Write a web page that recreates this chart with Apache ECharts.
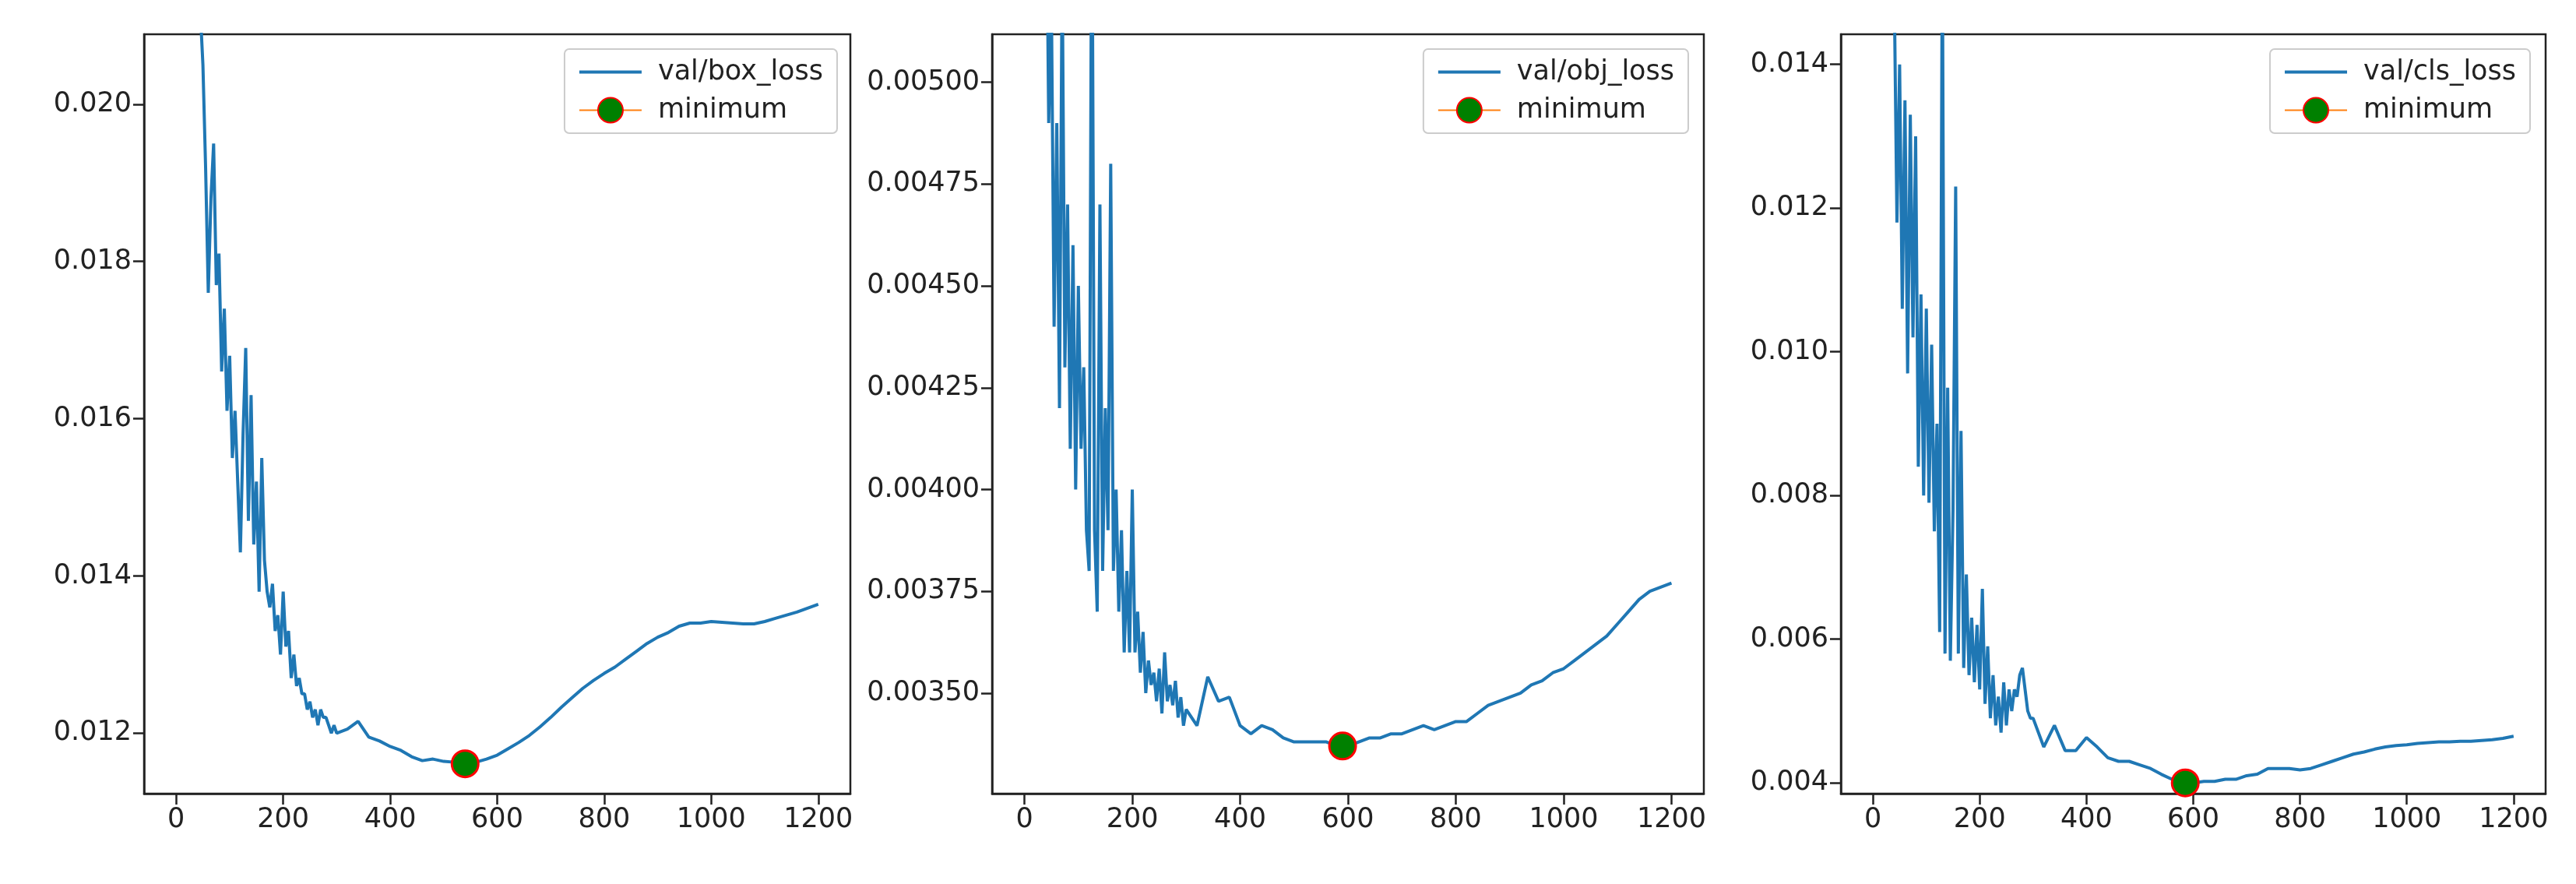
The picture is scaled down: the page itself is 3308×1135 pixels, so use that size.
<!DOCTYPE html>
<html>
<head>
<meta charset="utf-8">
<script src="https://cdn.jsdelivr.net/npm/echarts@6/dist/echarts.min.js"></script>
<style>
html, body { margin:0; width:100%; height:100%; background:#fff; }
#main { width:3308px; height:1135px; }
</style>
</head>
<body>
<div id="main"></div>
<script>
var epochs = [40,45,50,55,60,65,70,75,80,85,90,95,100,105,110,115,120,125,130,135,140,145,150,155,160,165,170,175,180,185,190,195,200,205,210,215,220,225,230,235,240,245,250,255,260,265,270,275,280,285,290,295,300,
  320,340,360,380,400,420,440,460,480,500,520,540,560,580,600,620,640,660,680,700,720,740,760,780,800,820,840,860,880,900,920,940,960,980,1000,1020,1040,1060,1080,1100,1120,1140,1160,1180,1200];

var boxLoss = [0.0225,0.0212,0.0205,0.0192,0.0176,0.0188,0.0195,0.0177,0.0181,0.0166,0.0174,0.0161,0.0168,0.0155,0.0161,0.0152,0.0143,0.0158,0.0169,0.0147,0.0163,0.0144,0.0152,0.0138,0.0155,0.0142,0.0138,0.0136,0.0139,0.0133,0.0135,0.0130,0.0138,0.0131,0.0133,0.0127,0.0130,0.0126,0.0127,0.0125,0.0125,0.0123,0.0124,0.0122,0.0123,0.0121,0.0123,0.0122,0.0122,0.0121,0.0120,0.0121,0.0120,
  0.01205,0.01215,0.01195,0.0119,0.01183,0.01178,0.0117,0.01165,0.01167,0.01164,0.01163,0.01161,0.01163,0.01167,0.01172,0.0118,0.01188,0.01197,0.01208,0.0122,0.01233,0.01245,0.01257,0.01267,0.01276,0.01284,0.01294,0.01304,0.01314,0.01322,0.01328,0.01336,0.0134,0.0134,0.01342,0.01341,0.0134,0.01339,0.01339,0.01342,0.01346,0.0135,0.01354,0.01359,0.01364];

var objLoss = [0.0056,0.0049,0.0052,0.0044,0.0049,0.0042,0.0053,0.0043,0.0047,0.0041,0.0046,0.0040,0.0045,0.0041,0.0043,0.0039,0.0038,0.0056,0.0039,0.0037,0.0047,0.0038,0.0042,0.0039,0.0048,0.0038,0.0040,0.0037,0.0039,0.0036,0.0038,0.0036,0.0040,0.0036,0.0037,0.00355,0.00365,0.0035,0.00358,0.00352,0.00355,0.00348,0.00356,0.00345,0.0036,0.00348,0.00352,0.00347,0.00353,0.00344,0.00349,0.00342,0.00346,
  0.00342,0.00354,0.00348,0.00349,0.00342,0.0034,0.00342,0.00341,0.00339,0.00338,0.00338,0.00338,0.00338,0.00337,0.00337,0.00338,0.00339,0.00339,0.0034,0.0034,0.00341,0.00342,0.00341,0.00342,0.00343,0.00343,0.00345,0.00347,0.00348,0.00349,0.0035,0.00352,0.00353,0.00355,0.00356,0.00358,0.0036,0.00362,0.00364,0.00367,0.0037,0.00373,0.00375,0.00376,0.00377];

var clsLoss = [0.0150,0.0118,0.0140,0.0106,0.0135,0.0097,0.0133,0.0102,0.0130,0.0084,0.0108,0.0080,0.0106,0.0079,0.0101,0.0075,0.0090,0.0061,0.0158,0.0058,0.0095,0.0057,0.0078,0.0123,0.0058,0.0089,0.0056,0.0069,0.0055,0.0063,0.0054,0.0062,0.0053,0.0067,0.0051,0.0059,0.0049,0.0055,0.0048,0.0052,0.0047,0.0054,0.0048,0.0053,0.0050,0.0053,0.0052,0.0055,0.0056,0.0053,0.0050,0.0049,0.0049,
  0.0045,0.0048,0.00445,0.00445,0.00463,0.0045,0.00435,0.0043,0.0043,0.00425,0.0042,0.00412,0.00405,0.004,0.004,0.00402,0.00402,0.00405,0.00405,0.0041,0.00412,0.0042,0.0042,0.0042,0.00418,0.0042,0.00425,0.0043,0.00435,0.0044,0.00443,0.00447,0.0045,0.00452,0.00453,0.00455,0.00456,0.00457,0.00457,0.00458,0.00458,0.00459,0.0046,0.00462,0.00465];

var minima = [[540, 0.01161], [590, 0.00337], [585, 0.004]];
var names = ['val/box_loss', 'val/obj_loss', 'val/cls_loss'];
var xTicks = [0,200,400,600,800,1000,1200];
var yTicks = [
  [0.012,0.014,0.016,0.018,0.020],
  [0.0035,0.00375,0.004,0.00425,0.0045,0.00475,0.005],
  [0.004,0.006,0.008,0.010,0.012,0.014]
];
var yDigits = [3, 5, 3];
var yRange = [[0.01123, 0.02089], [0.003253, 0.005118], [0.00385, 0.01442]];
var values = [boxLoss, objLoss, clsLoss];

var grids = [
  {left:185, top:44, width:907, height:975},
  {left:1274, top:44, width:914, height:975},
  {left:2364, top:44, width:905, height:975}
];
var legendRight = [2233, 1140, 59];

var font = 'DejaVu Sans';
var option = {grid:[], xAxis:[], yAxis:[], legend:[], series:[], animation:false};
for (var i = 0; i < 3; i++) {
  option.grid.push(Object.assign({show:true, borderColor:'#222', borderWidth:2.5}, grids[i]));
  option.xAxis.push({
    type:'value', gridIndex:i, min:-60, max:1260,
    axisLine:{show:true, onZero:false, lineStyle:{color:'#222', width:2.5}}, splitLine:{show:false},
    axisTick:{show:true, inside:false, length:14, lineStyle:{color:'#222', width:2.5}, customValues:xTicks},
    axisLabel:{fontSize:35, color:'#222', fontFamily:font, margin:16, customValues:xTicks,
      formatter:function (v) { return String(v); }}
  });
  (function (d) {
    option.yAxis.push({
      type:'value', gridIndex:i, min:yRange[i][0], max:yRange[i][1],
      axisLine:{show:true, onZero:false, lineStyle:{color:'#222', width:2.5}}, splitLine:{show:false},
      axisTick:{show:true, inside:false, length:14, lineStyle:{color:'#222', width:2.5}, customValues:yTicks[i]},
      axisLabel:{fontSize:35, color:'#222', fontFamily:font, margin:16, customValues:yTicks[i],
        formatter:function (v) { return v.toFixed(d); }}
    });
  })(yDigits[i]);
  option.legend.push({
    right:legendRight[i], top:63, orient:'vertical',
    data:[{name:names[i], icon:'path://M0,0h80v4h-80z'}, 'minimum' + (i ? ' '.repeat(i) : '')],
    formatter:function (n) { return n.trim(); },
    itemWidth:80, itemHeight:40, itemGap:14, padding:[12,18,12,18],
    borderColor:'#ccc', borderWidth:2, borderRadius:6, backgroundColor:'#fff',
    textStyle:{fontSize:35, color:'#222', fontFamily:font, padding:[0,0,0,16]}
  });
  var pts = epochs.map(function (e, k) { return [e, values[i][k]]; });
  option.series.push({
    name:names[i], type:'line', xAxisIndex:i, yAxisIndex:i, data:pts,
    symbol:'none', lineStyle:{color:'#1f77b4', width:4}, itemStyle:{color:'#1f77b4'}
  });
  option.series.push({
    name:'minimum' + (i ? ' '.repeat(i) : ''), type:'line', xAxisIndex:i, yAxisIndex:i, data:[minima[i]],
    symbol:'circle', symbolSize:34, clip:false, z:5,
    lineStyle:{color:'#ff7f0e', width:4},
    itemStyle:{color:'#008000', borderColor:'#ff0000', borderWidth:3}
  });
}
var chart = echarts.init(document.getElementById('main'));
chart.setOption(option);
</script>
</body>
</html>
